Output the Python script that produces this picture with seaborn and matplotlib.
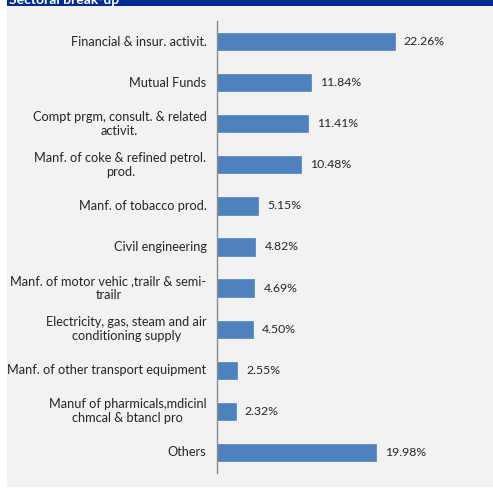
import matplotlib
matplotlib.use("Agg")
import matplotlib.pyplot as plt
import matplotlib.transforms as mtransforms
import seaborn as sns
import pandas as pd
import numpy as np

# Sector names (wrapped as displayed) and their share of the portfolio, in %
sectors = [
    "Financial & insur. activit.",
    "Mutual Funds",
    "Compt prgm, consult. & related\nactivit.",
    "Manf. of coke & refined petrol.\nprod.",
    "Manf. of tobacco prod.",
    "Civil engineering",
    "Manf. of motor vehic ,trailr & semi-\ntrailr",
    "Electricity, gas, steam and air\nconditioning supply",
    "Manf. of other transport equipment",
    "Manuf of pharmicals,mdicinl\nchmcal & btancl pro",
    "Others",
]
shares = [22.26, 11.84, 11.41, 10.48, 5.15, 4.82, 4.69, 4.50, 2.55, 2.32, 19.98]
value_labels = ["22.26%", "11.84%", "11.41%", "10.48%", "5.15%", "4.82%",
                "4.69%", "4.50%", "2.55%", "2.32%", "19.98%"]
title = "Sectoral break-up"

df = pd.DataFrame({"sector": sectors, "share": shares})

sns.set_style("white")
plt.rcParams["font.family"] = "Lato"

W, H = 493, 488
fig = plt.figure(figsize=(W / 100, H / 100), dpi=100, facecolor="white")

# background layer: light grey panel and dark blue header strip
bg = fig.add_axes([0, 0, 1, 1], zorder=0)
bg.set_xlim(0, W)
bg.set_ylim(H, 0)
bg.axis("off")
bg.add_patch(plt.Rectangle((7, 6), W - 7, 481, facecolor="#f2f2f2", edgecolor="none"))
bg.add_patch(plt.Rectangle((7, 0), W - 7, 6, facecolor="#002d8f", edgecolor="none"))
bg.text(9, 3.5, title, color="white", fontsize=10, fontweight="bold",
        va="baseline", ha="left")

xmax = 30
ax_left = 217 / W
ax_right = (217 + xmax * 7.98) / W
ax_top = 1 - 21 / H
ax_bottom = 1 - 473 / H
ax = fig.add_axes([ax_left, ax_bottom, ax_right - ax_left, ax_top - ax_bottom], zorder=2)
ax.set_facecolor("none")

sns.barplot(data=df, x="share", y="sector", orient="h", color="#4f81bd",
            saturation=1, width=0.42, edgecolor="#5b8cc8", linewidth=0.6, ax=ax)

ax.set_xlim(0, xmax)
ax.set_ylim(len(sectors) - 0.5, -0.5)
ax.set_xlabel("")
ax.set_ylabel("")
ax.set_xticks([])

for s in ["top", "right", "bottom"]:
    ax.spines[s].set_visible(False)
ax.spines["left"].set_color("#8c8c8c")
ax.spines["left"].set_linewidth(1.0)

# boundary tick marks between categories
ax.set_yticks(np.arange(len(sectors)))
ax.tick_params(axis="y", which="major", length=0, labelleft=False)
ax.set_yticks(np.arange(-0.5, len(sectors), 1.0), minor=True)
ax.tick_params(axis="y", which="minor", length=4, width=1.0, color="#8c8c8c",
               direction="out")

# category names: right-aligned blocks, wrapped lines centred under the first
line_gap = 14
label_style = dict(fontsize=9.2, color="#262626")
for i, name in enumerate(sectors):
    lines = name.split("\n")
    shift = (len(lines) - 1) * line_gap / 2
    tr = mtransforms.offset_copy(ax.get_yaxis_transform(), fig=fig,
                                 x=-10.5, y=shift, units="dots")
    first = ax.text(0, i, lines[0], transform=tr, ha="right", va="center",
                    clip_on=False, **label_style)
    for k, extra in enumerate(lines[1:], start=1):
        ax.annotate(extra, xy=(0.5, 0.5), xycoords=first,
                    xytext=(0, -k * line_gap), textcoords="offset pixels",
                    ha="center", va="center", annotation_clip=False,
                    **label_style)

for i, (v, t) in enumerate(zip(shares, value_labels)):
    ax.annotate(t, xy=(v, i), xytext=(9, 0), textcoords="offset pixels",
                ha="left", va="center", fontsize=8.8, color="#262626")

fig.savefig("out.png", dpi=100, facecolor="white")
